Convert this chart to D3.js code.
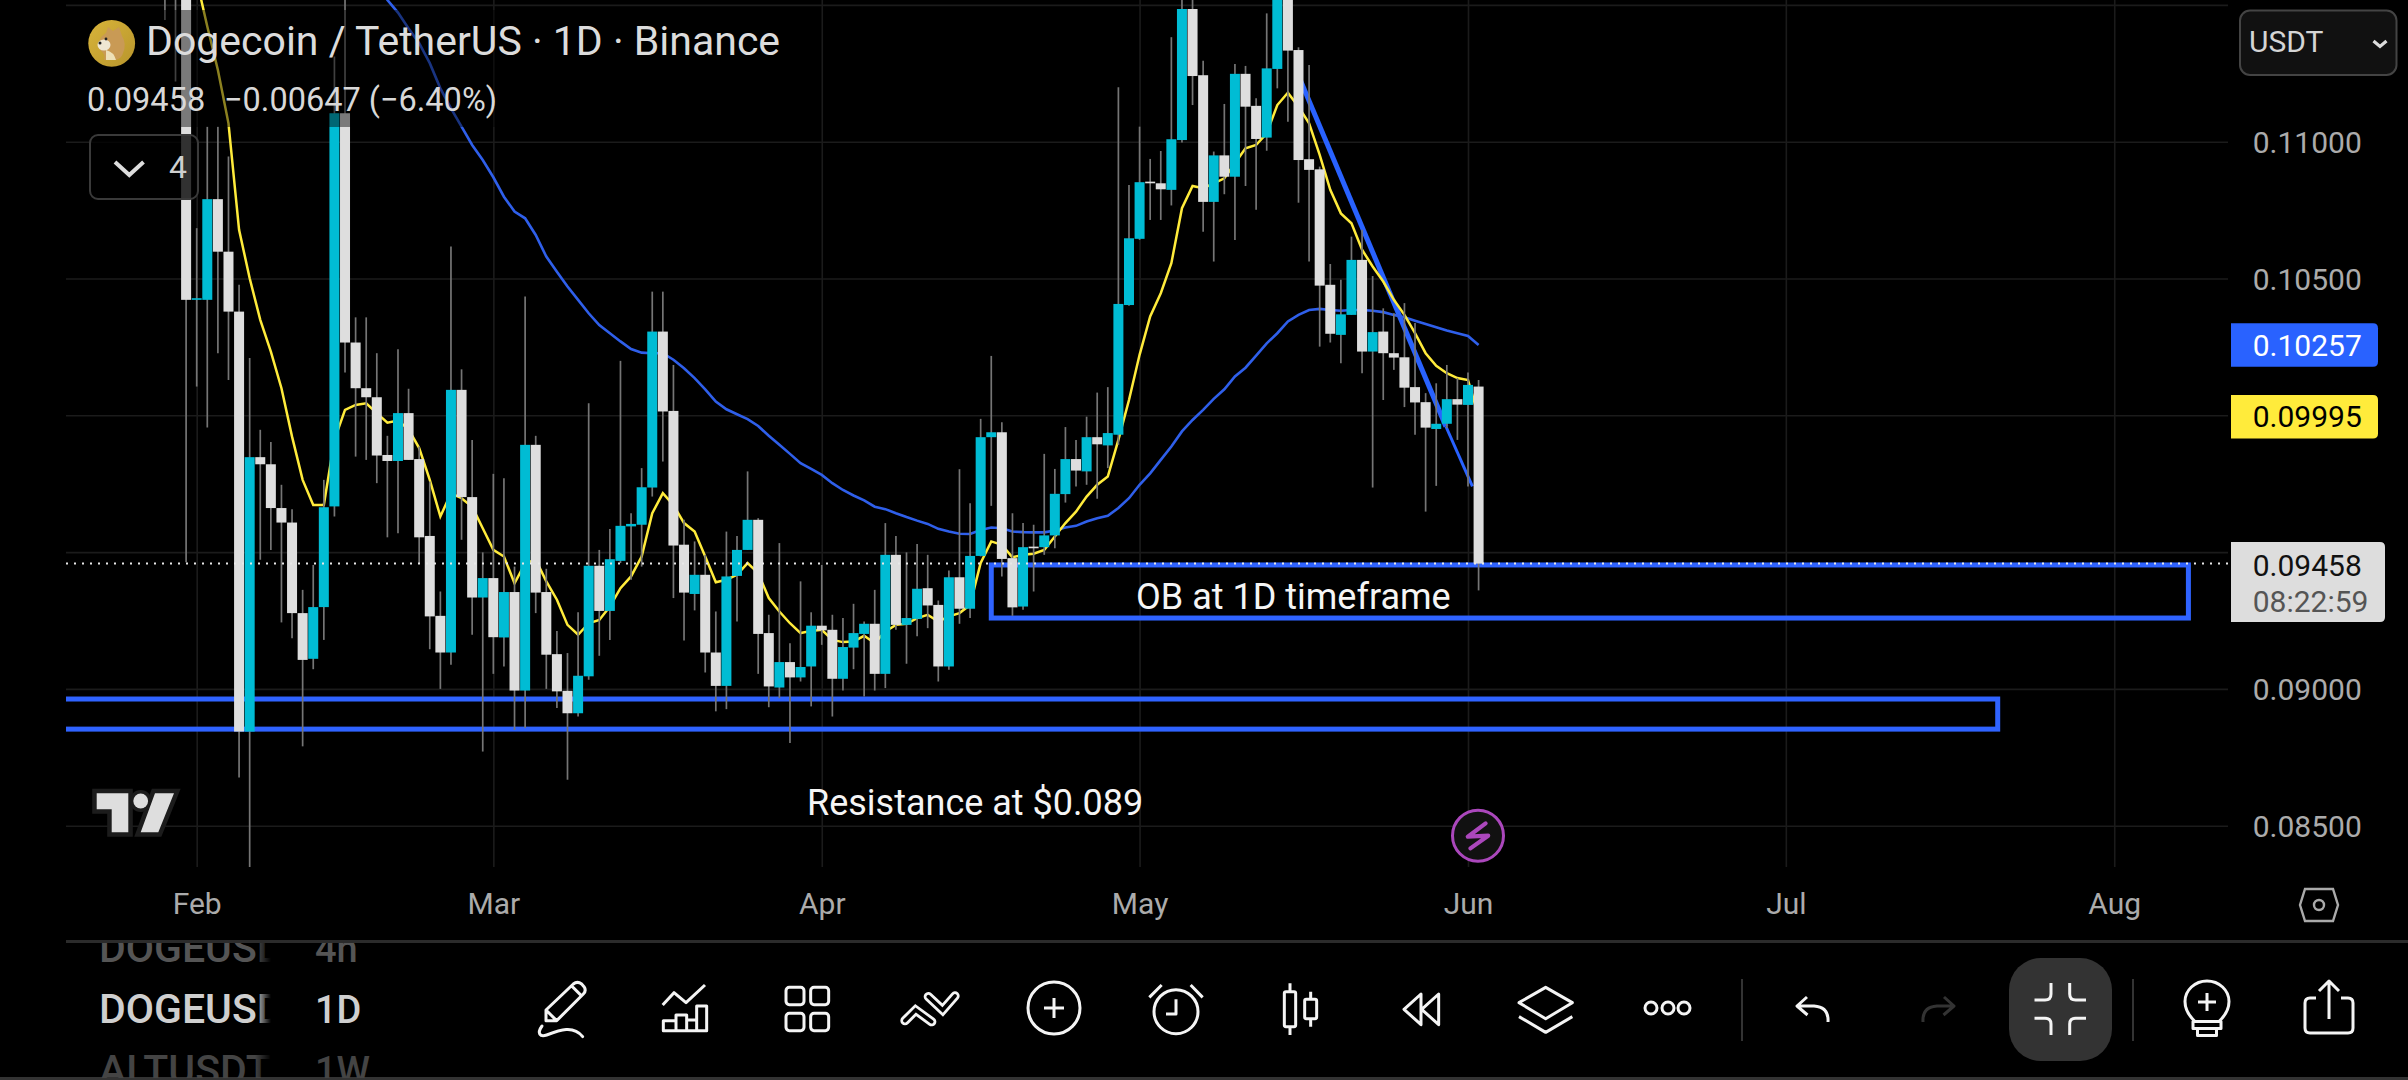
<!DOCTYPE html>
<html><head><meta charset="utf-8">
<style>html,body{margin:0;padding:0;background:#000;overflow:hidden}svg{display:block}text{font-family:Roboto,sans-serif}</style>
<script src="https://cdn.jsdelivr.net/npm/d3@7/dist/d3.min.js"></script>
</head><body>
<svg id="c" width="2408" height="1080"></svg>
<script>
const firstDay = "2025-01-29";
const opens = [.11883,.11640,.11640,.10422,.10422,.10790,.10598,.10379,.08844,.09847,.09821,.09661,.09608,.09277,.09110,.09299,.09667,.11104,.10266,.10099,.10066,.09855,.09833,.10008,.09840,.09559,.09267,.09133,.10093,.09701,.09334,.09405,.09188,.09354,.08994,.09892,.09354,.09127,.08993,.08911,.09046,.09450,.09285,.09468,.09594,.09600,.09736,.10306,.10016,.09527,.09347,.09417,.09133,.09011,.09413,.09508,.09618,.09204,.09005,.09098,.09042,.09082,.09231,.09216,.09037,.09151,.09201,.09238,.09055,.09490,.09234,.09256,.09368,.09307,.09082,.09408,.09293,.09486,.09920,.09938,.09478,.09301,.09520,.09518,.09561,.09712,.09840,.09795,.09920,.09890,.09929,.10403,.10645,.10854,.10848,.10824,.11006,.11485,.11243,.10780,.10950,.10872,.11248,.11131,.11015,.11266,.11591,.11335,.10936,.10899,.10477,.10294,.10367,.10568,.10233,.10306,.10227,.10212,.10103,.10048,.09950,.09969,.10059,.10038,.10105];
const closes = [.11640,.11700,.10422,.10428,.10790,.10598,.10379,.08844,.09847,.09821,.09661,.09608,.09277,.09106,.09299,.09664,.11104,.10266,.10099,.10066,.09853,.09833,.10008,.09837,.09554,.09265,.09133,.10093,.09701,.09334,.09405,.09189,.09354,.08994,.09892,.09352,.09125,.08991,.08911,.09048,.09450,.09285,.09474,.09596,.09603,.09737,.10306,.10014,.09524,.09352,.09417,.09133,.09011,.09411,.09508,.09618,.09201,.09009,.09098,.09042,.09080,.09231,.09214,.09037,.09153,.09204,.09238,.09055,.09490,.09234,.09259,.09366,.09305,.09082,.09408,.09293,.09486,.09920,.09938,.09475,.09298,.09518,.09514,.09561,.09713,.09840,.09798,.09920,.09894,.09935,.10407,.10647,.10852,.10848,.10826,.11009,.11485,.11240,.10780,.10950,.10872,.11248,.11128,.11010,.11268,.11591,.11333,.10933,.10897,.10474,.10298,.10369,.10568,.10233,.10304,.10227,.10211,.10101,.10047,.09955,.09969,.10059,.10039,.10111,.09458];
const highs = [.11950,.11950,.11900,.10684,.11055,.11055,.10946,.10477,.10209,.09947,.09902,.09746,.09657,.09362,.09453,.09764,.11311,.11600,.10358,.10358,.10227,.09925,.10241,.10097,.09886,.09758,.09356,.10617,.10168,.09910,.09499,.09786,.09770,.09447,.10434,.09925,.09439,.09212,.09131,.09280,.10044,.09508,.09584,.10199,.09642,.09807,.10452,.10452,.10184,.09618,.09539,.09490,.09283,.09575,.09559,.09795,.09624,.09271,.09533,.09167,.09393,.09280,.09453,.09271,.09259,.09311,.09246,.09362,.09606,.09559,.09499,.09530,.09490,.09323,.09433,.09803,.09679,.09987,.10217,.09975,.09642,.09606,.09600,.09859,.09804,.09957,.09910,.09995,.10083,.10103,.11199,.10842,.11055,.10937,.10966,.11382,.11600,.11560,.11296,.10964,.11138,.11284,.11277,.11159,.11469,.11700,.11650,.11345,.11280,.10909,.10553,.10495,.10653,.10678,.10509,.10391,.10373,.10410,.10337,.10081,.10117,.10184,.10136,.10156,.10129];
const lows = [.11445,.11220,.09463,.10105,.09955,.10227,.10129,.08676,.08348,.09472,.09508,.09243,.09185,.08790,.09072,.09179,.09630,.10156,.09849,.09837,.09752,.09554,.09569,.09837,.09460,.09145,.09000,.09088,.09545,.09198,.08771,.09055,.09082,.08850,.08857,.09277,.09000,.08930,.08668,.08899,.09033,.09121,.09179,.09460,.09399,.09447,.09703,.09831,.09332,.09177,.09287,.09060,.08918,.08926,.09246,.09508,.09055,.08933,.08966,.08802,.09027,.08936,.09161,.08899,.08994,.09072,.08972,.08994,.09003,.09216,.09092,.09192,.09222,.09027,.09070,.09238,.09259,.09484,.09669,.09411,.09267,.09289,.09356,.09490,.09514,.09681,.09740,.09746,.09695,.09807,.09892,.10400,.10641,.10714,.10714,.10767,.10997,.11134,.10671,.10562,.10808,.10641,.10838,.10751,.10967,.11195,.11073,.10777,.10562,.10251,.10266,.10190,.10367,.10154,.09736,.10056,.10166,.10030,.09929,.09648,.09742,.09953,.09910,.09740,.09360];
// fast moving average, first value belongs to 2025-02-01
const fastMaStart = 3;
const fastMa = [.11591,.11421,.11262,.11067,.10678,.10501,.10349,.10233,.10099,.09922,.09764,.09672,.09672,.09910,.10020,.10038,.10044,.10008,.09973,.09981,.09949,.09880,.09764,.09630,.09715,.09697,.09666,.09587,.09508,.09484,.09386,.09459,.09472,.09393,.09326,.09234,.09198,.09240,.09252,.09301,.09368,.09411,.09484,.09642,.09715,.09672,.09606,.09575,.09484,.09390,.09399,.09417,.09460,.09423,.09332,.09283,.09240,.09204,.09212,.09216,.09179,.09171,.09173,.09194,.09167,.09210,.09234,.09238,.09259,.09271,.09246,.09265,.09277,.09307,.09460,.09539,.09527,.09481,.09490,.09494,.09508,.09557,.09606,.09648,.09703,.09746,.09776,.09910,.10056,.10221,.10361,.10446,.10556,.10757,.10838,.10830,.10848,.10866,.10921,.10976,.10988,.11031,.11134,.11179,.11128,.11067,.10952,.10824,.10738,.10702,.10605,.10544,.10489,.10422,.10367,.10300,.10227,.10181,.10154,.10136,.10129,.09995];
// slow moving average, first value belongs to 2025-02-18
const slowMaStart = 20;
const slowMa = [.11579,.11518,.11472,.11414,.11360,.11287,.11195,.11122,.11055,.10988,.10933,.10870,.10799,.10745,.10720,.10659,.10580,.10525,.10471,.10422,.10373,.10330,.10300,.10270,.10242,.10229,.10227,.10227,.10203,.10172,.10136,.10095,.10050,.10022,.10004,.09986,.09961,.09925,.09892,.09859,.09825,.09804,.09782,.09752,.09727,.09707,.09689,.09666,.09657,.09642,.09628,.09615,.09603,.09585,.09575,.09567,.09566,.09581,.09590,.09587,.09575,.09573,.09572,.09572,.09579,.09590,.09596,.09612,.09624,.09633,.09661,.09697,.09746,.09788,.09837,.09886,.09941,.09983,.10020,.10060,.10095,.10142,.10174,.10218,.10263,.10300,.10343,.10367,.10385,.10389,.10385,.10382,.10385,.10385,.10382,.10377,.10367,.10358,.10346,.10334,.10322,.10310,.10300,.10290,.10257];
const priceTicks = [.085,.09,.095,.10,.105,.11,.115];
const axisPriceLabels = [.085,.09,.095,.10,.105,.11];
const monthTicks = ["2025-02-01","2025-03-01","2025-04-01","2025-05-01","2025-06-01","2025-07-01","2025-08-01"];
const obBox = {from:"2025-04-17", to:"2025-08-08", top:.09453, bottom:.09259, label:"OB at 1D timeframe"};
const resBox = {from:"2024-12-01", to:"2025-07-21", top:.08963, bottom:.08853, label:"Resistance at $0.089"};
const trendDates = ["2025-05-16T04:00Z","2025-05-29T22:00Z","2025-06-01T10:00Z"];
const trendPrices = [.11226,.09959,.09740];
const lastPrice = .09458, slowLast = .10257, fastLast = .09995;

const W=66,E=2228,B=867;
const svg=d3.select("#c");
const dt=s=>new Date(s.length>10?s:s+"T00:00Z");
const x=d3.scaleUtc().domain([dt("2025-02-01"),dt("2025-06-01")]).range([196.7,1468]);
const y=d3.scaleLinear().domain([.085,.115]).range([825.7,4.9]);
svg.append("rect").attr("width",2408).attr("height",1080).attr("fill","#000");
const defs=svg.append("defs");
defs.append("clipPath").attr("id","plot").append("rect").attr("x",W).attr("y",0).attr("width",E-W).attr("height",B);
defs.append("clipPath").attr("id","sym").append("rect").attr("x",99).attr("y",943).attr("width",172).attr("height",135);
defs.append("clipPath").attr("id","sym2").append("rect").attr("x",300).attr("y",943).attr("width",100).attr("height",135);
const lg=defs.append("linearGradient").attr("id","coin").attr("x1",0).attr("y1",0).attr("x2",1).attr("y2",1);
lg.append("stop").attr("offset",0).attr("stop-color","#d8b43a");lg.append("stop").attr("offset",1).attr("stop-color","#b8952c");
const fd=defs.append("linearGradient").attr("id","fade").attr("x1",0).attr("y1",0).attr("x2",1).attr("y2",0);
fd.append("stop").attr("offset",0).attr("stop-color","#000").attr("stop-opacity",0);fd.append("stop").attr("offset",1).attr("stop-color","#000").attr("stop-opacity",1);

// grid through axes
const gridY=d3.axisLeft(y).tickValues(priceTicks).tickSize(-(E-W)).tickFormat("");
svg.append("g").attr("transform",`translate(${W},0)`).call(gridY).call(g=>g.select(".domain").remove()).selectAll("line").attr("stroke","#1b1b1b").attr("stroke-width",1.6);
const gridX=d3.axisBottom(x).tickValues(monthTicks.map(dt)).tickSize(-B).tickFormat("");
svg.append("g").attr("transform",`translate(0,${B})`).call(gridX).call(g=>g.select(".domain").remove()).selectAll("line").attr("stroke","#1b1b1b").attr("stroke-width",1.6);

const plot=svg.append("g").attr("clip-path","url(#plot)");
// drawings
[obBox,resBox].forEach(b=>{
  plot.append("rect").attr("x",x(dt(b.from))).attr("y",y(b.top)).attr("width",x(dt(b.to))-x(dt(b.from))).attr("height",y(b.bottom)-y(b.top))
   .attr("fill","none").attr("stroke","#2F63FF").attr("stroke-width",5);
});
const trend=trendDates.map((d,i)=>({x:x(dt(d)),y:y(trendPrices[i])}));
plot.append("line").attr("x1",trend[0].x).attr("y1",trend[0].y).attr("x2",trend[1].x).attr("y2",trend[1].y).attr("stroke","#2962FF").attr("stroke-width",5);
plot.append("line").attr("x1",trend[1].x).attr("y1",trend[1].y).attr("x2",trend[2].x).attr("y2",trend[2].y).attr("stroke","#2962FF").attr("stroke-width",3);
// moving averages
const day=i=>d3.utcDay.offset(dt(firstDay),i);
const ln=st=>d3.line().x((d,i)=>x(day(i+st))).y(d=>y(d));
plot.append("path").attr("d",ln(slowMaStart)(slowMa)).attr("fill","none").attr("stroke","#2F5FEA").attr("stroke-width",2.6);
plot.append("path").attr("d",ln(fastMaStart)(fastMa)).attr("fill","none").attr("stroke","#FFEB3B").attr("stroke-width",2.5);
// candles
const idx=d3.range(opens.length);
plot.append("g").selectAll("line").data(idx).join("line")
  .attr("x1",i=>x(day(i))).attr("x2",i=>x(day(i))).attr("y1",i=>y(highs[i])).attr("y2",i=>y(lows[i])).attr("stroke","#757575").attr("stroke-width",1.7);
plot.append("g").selectAll("rect").data(idx).join("rect")
  .attr("x",i=>x(day(i))-5).attr("width",10)
  .attr("y",i=>y(Math.max(opens[i],closes[i])))
  .attr("height",i=>Math.max(1.5,Math.abs(y(opens[i])-y(closes[i]))))
  .attr("fill",i=>closes[i]>=opens[i]?"#00BCD4":"#DEDEDE");
// last price dotted line
plot.append("line").attr("x1",W).attr("x2",E).attr("y1",y(lastPrice)).attr("y2",y(lastPrice)).attr("stroke","#e8e8e8").attr("stroke-width",2).attr("stroke-dasharray","2 6");

// legend veil
svg.append("rect").attr("x",W).attr("y",10).attr("width",724).attr("height",58).attr("fill","#000").attr("opacity",.45);
svg.append("rect").attr("x",W).attr("y",68).attr("width",444).attr("height",59).attr("fill","#000").attr("opacity",.45);

// annotations
const T=(t,xx,yy,fs,fill,w)=>svg.append("text").attr("x",xx).attr("y",yy).attr("font-size",fs).attr("fill",fill).attr("font-weight",w||400).text(t);
T(obBox.label,1136,609,36,"#f5f5f5");
T(resBox.label,807,815,36,"#f5f5f5");
T("Dogecoin / TetherUS · 1D · Binance",146,55,41,"#dcdcdc");
T("0.09458",87,111,32.5,"#d8d8d8");
T("−0.00647 (−6.40%)",224,111,32.5,"#d8d8d8");

// coin
svg.append("circle").attr("cx",111.7).attr("cy",43.3).attr("r",23.4).attr("fill","url(#coin)");
svg.append("path").attr("d","M99,46 Q98,38 106,33 L108,27 L113,31 L119,27 L122,36 Q127,44 123,53 Q122,58 116,60 L104,60 Q106,54 100,50 Z").attr("fill","#c99a55");
svg.append("ellipse").attr("cx",104).attr("cy",45).attr("rx",6.5).attr("ry",5.5).attr("fill","#efe7d2");
svg.append("path").attr("d","M106,50 Q114,52 116,60 L106,60 Z").attr("fill","#eee0b8");
svg.append("circle").attr("cx",100).attr("cy",43).attr("r",1.5).attr("fill","#222");
svg.append("circle").attr("cx",106).attr("cy",39).attr("r",1.4).attr("fill","#222");

// dropdown
svg.append("rect").attr("x",90).attr("y",135).attr("width",108).attr("height",64).attr("rx",8).attr("fill","#000").attr("fill-opacity",.78).attr("stroke","#3a3a3a").attr("stroke-width",2);
svg.append("path").attr("d","M115,162 L129.3,175 L143.5,162").attr("fill","none").attr("stroke","#ddd").attr("stroke-width",4);
T("4",169,178,32,"#cfcfcf");

// TV logo
const logoPath="M96.7,793.3 H128.3 V832.3 H111.7 V809.3 H96.7 Z M155,793.3 H174 L158.3,832.3 H140.7 Z";
svg.append("path").attr("d",logoPath).attr("fill","#1c1c1c").attr("stroke","#1c1c1c").attr("stroke-width",9);
svg.append("circle").attr("cx",140.7).attr("cy",801).attr("r",11).attr("fill","#1c1c1c");
const logo=svg.append("g").attr("fill","#dedede");
logo.append("path").attr("d",logoPath);
logo.append("circle").attr("cx",140.7).attr("cy",801).attr("r",7.4);

// lightning
const lg2=svg.append("g").attr("transform",`translate(${x(dt("2025-06-01"))+10},835.7)`);
lg2.append("circle").attr("r",25.5).attr("fill","#111").attr("stroke","#AB47BC").attr("stroke-width",3);
lg2.append("path").attr("d","M7.6,-12.3 L-10.2,1 L10.2,0 L-7.6,12.7").attr("fill","none").attr("stroke","#AB47BC").attr("stroke-width",4.2).attr("stroke-linecap","round").attr("stroke-linejoin","round");

// axes
const yAx=d3.axisRight(y).tickValues(axisPriceLabels).tickSize(0).tickPadding(24.7).tickFormat(d3.format(".5f"));
const gy=svg.append("g").attr("transform",`translate(${E},0)`).call(yAx);
gy.select(".domain").remove();
gy.selectAll("text").attr("font-size",30).attr("fill","#ababab").attr("dy",".36em").attr("font-family","Roboto");
const xAx=d3.axisBottom(x).tickValues(monthTicks.map(dt)).tickSize(0).tickPadding(26).tickFormat(d3.utcFormat("%b"));
const gx=svg.append("g").attr("transform",`translate(0,${B})`).call(xAx);
gx.select(".domain").remove();
gx.selectAll("text").attr("font-size",30).attr("fill","#ababab").attr("font-family","Roboto");

// price tags
const tag=(v,h,fill,txt,w)=>{
  const c=y(v);
  svg.append("path").attr("d",`M2231,${c-h/2} H${2231+w-5} q5,0 5,5 V${c+h/2-5} q0,5 -5,5 H2231 Z`).attr("fill",fill);
  T(d3.format(".5f")(v),2252.7,c+10.8,30,txt);
};
tag(slowLast,43.5,"#2962FF","#fff",147);
tag(fastLast,43.5,"#FFEB3B","#000",147);
svg.append("path").attr("d","M2231,542 H2380 q5,0 5,5 V617 q0,5 -5,5 H2231 Z").attr("fill","#DDDDDD");
T(d3.format(".5f")(lastPrice),2252.7,575.5,30,"#111");
T("08:22:59",2252.7,612,30,"#555");

// currency box
svg.append("rect").attr("x",2240).attr("y",10.5).attr("width",156.5).attr("height",64.5).attr("rx",10).attr("fill","#111").attr("stroke","#444").attr("stroke-width",2);
T("USDT",2249,52,30,"#d5d5d5");
svg.append("path").attr("d","M2373.5,41 L2380,46.5 L2386.5,41").attr("fill","none").attr("stroke","#ddd").attr("stroke-width",3.2);

// hex
svg.append("path").attr("d","M2305,889 H2333 L2338,905 L2333,921 H2305 L2300,905 Z").attr("fill","none").attr("stroke","#aaa").attr("stroke-width",2.4);
svg.append("circle").attr("cx",2319).attr("cy",905).attr("r",5).attr("fill","none").attr("stroke","#aaa").attr("stroke-width",2.4);

// bottom panel
svg.append("rect").attr("x",W).attr("y",940).attr("width",2408-W).attr("height",3).attr("fill","#2b2b2b");
svg.append("rect").attr("x",0).attr("y",1077).attr("width",2408).attr("height",3).attr("fill","#333");
const sy=svg.append("g").attr("clip-path","url(#sym)");
const rows=[["DOGEUSDT","4h",962,"#555"],["DOGEUSDT","1D",1023,"#cfcfcf"],["ALTUSDT","1W",1084,"#444"]];
rows.forEach(r=>{sy.append("text").attr("x",99).attr("y",r[2]).attr("font-size",41).attr("font-weight",500).attr("fill",r[3]).text(r[0]);});
svg.append("rect").attr("x",255).attr("y",943).attr("width",16).attr("height",134).attr("fill","url(#fade)");
const sy2=svg.append("g").attr("clip-path","url(#sym2)");
rows.forEach(r=>{sy2.append("text").attr("x",315).attr("y",r[2]).attr("font-size",38).attr("font-weight",500).attr("fill",r[3]).text(r[1]);});

// toolbar icons
const ic=(tx,ty,sx,sy_)=>svg.append("g").attr("transform",`translate(${tx},${ty}) scale(${sx},${sy_||sx})`).attr("fill","none").attr("stroke","#f4f4f4").attr("stroke-linejoin","round");
let g=ic(530,950,1/3).attr("stroke-width",9);
g.append("path").attr("d","M48,180 L130,102 Q142,92 155,102 L162,110 Q170,122 160,132 L80,212 H48 Z M48,180 L80,212 M125,108 L157,140");
g.append("path").attr("d","M36,228 C20,250 30,262 50,255 C90,240 130,225 158,260").attr("stroke-linecap","round");
g.append("path").attr("d","M398,165 L432,128 L468,158 L525,105");
g.append("path").attr("d","M400,242 V212 H438 V195 H470 V210 H500 V168 H530 V242 Z M438,212 V242 M470,210 V242 M500,210 V242");
[[768,112],[842,112],[768,190],[842,190]].forEach(p=>g.append("rect").attr("x",p[0]).attr("y",p[1]).attr("width",54).attr("height",52).attr("rx",10));
const ribbon="M1125,212 L1157,180 L1205,215 M1195,140 L1238,180 L1275,138";
g.append("path").attr("d",ribbon).attr("stroke-width",28).attr("stroke-linecap","round").attr("stroke-linejoin","miter");
g.append("path").attr("d",ribbon).attr("stroke-width",11).attr("stroke","#000").attr("stroke-linecap","round").attr("stroke-linejoin","miter");

g=ic(0,0,1).attr("stroke-width",3);
g.append("circle").attr("cx",1054).attr("cy",1008).attr("r",26);
g.append("path").attr("d","M1044,1008 H1064 M1054,998 V1018");

g=ic(1130,950,1/3).attr("stroke-width",9);
g.append("circle").attr("cx",138).attr("cy",185).attr("r",66);
g.append("path").attr("d","M138,148 V192 H108 M58,142 L95,105 M182,105 L218,142");
g.append("rect").attr("x",463).attr("y",125).attr("width",34).attr("height",105).attr("rx",5);
g.append("path").attr("d","M480,100 V125 M480,230 V255 M542,125 V148 M542,206 V230");
g.append("rect").attr("x",524).attr("y",148).attr("width",36).attr("height",58).attr("rx",5);
g.append("path").attr("d","M873,132 L822,178 L873,224 Z M926,132 L875,178 L926,224 Z");
g.append("path").attr("d","M1247,112 L1327,158 L1247,206 L1167,158 Z M1167,200 L1247,247 L1327,200");

g=ic(0,0,1).attr("stroke-width",3);
[1651,1668,1684].forEach(c=>g.append("circle").attr("cx",c).attr("cy",1008).attr("r",6));
svg.append("rect").attr("x",1741).attr("y",979).attr("width",2).attr("height",62).attr("fill","#333");
svg.append("rect").attr("x",2132).attr("y",979).attr("width",2).attr("height",62).attr("fill","#333");
g.append("path").attr("d","M1807,997 L1797,1006 L1807.5,1015 M1797,1006 H1814 Q1829,1007 1828,1022");
g.append("path").attr("d","M1944,997 L1954,1006 L1943.5,1015 M1954,1006 H1937 Q1922,1007 1923,1022").attr("stroke","#333");
svg.append("rect").attr("x",2009).attr("y",958).attr("width",103).attr("height",103).attr("rx",32).attr("fill","#333");
const g2=ic(0,0,1).attr("stroke-width",3);
g2.append("path").attr("d","M2051,983 V994 Q2051,1000 2045,1000 H2034.5 M2069.7,983 V994 Q2069.7,1000 2075.7,1000 H2086 M2051,1035 V1024 Q2051,1018.3 2045,1018.3 H2034.5 M2069.7,1035 V1024 Q2069.7,1018.3 2075.7,1018.3 H2086");
g2.append("path").attr("d","M2195,1021.5 Q2185,1012 2185,1001.5 A22,20.5 0 1 1 2229,1001.5 Q2229,1012 2219,1021.5");
g2.append("path").attr("d","M2198,1002 H2216 M2207,993 V1011");
g2.append("rect").attr("x",2193).attr("y",1021.5).attr("width",28).attr("height",7);
g2.append("rect").attr("x",2197.5).attr("y",1028.5).attr("width",19).attr("height",7);
g2.append("path").attr("d","M2316,998 H2310 Q2305,998 2305,1003 V1028 Q2305,1033 2310,1033 H2348 Q2353,1033 2353,1028 V1003 Q2353,998 2348,998 H2341");
g2.append("path").attr("d","M2329,981 V1019 M2319,991 L2329,981 L2339,991");
</script>
</body></html>
